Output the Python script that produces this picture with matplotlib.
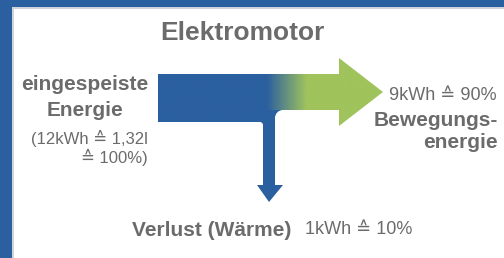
import matplotlib
matplotlib.use('Agg')
import matplotlib.pyplot as plt
import numpy as np
from matplotlib.path import Path
from matplotlib.patches import PathPatch, Rectangle
from matplotlib.colors import LinearSegmentedColormap

plt.rcParams['font.family'] = ['Liberation Sans', 'DejaVu Sans']

# Energiefluss: Zufluss, Nutzen, Verlust
flow_width = [1.0, 0.75, 0.25]   # Pfeilbreiten wie im Bild
kwh = [12, 9, 1]
percent = [100, 90, 10]
liter = '1,32l'

blue = '#2b60a0'
green = '#a0c35c'
grey = '#6b6b6b'

fig = plt.figure(figsize=(5.04, 2.58), dpi=100)
ax = fig.add_axes([0, 0, 1, 1])
ax.set_xlim(0, 504)
ax.set_ylim(258, 0)
ax.axis('off')

# Rahmen oben und links
ax.add_patch(Rectangle((0, 0), 504, 7, color=blue, lw=0))
ax.add_patch(Rectangle((0, 0), 12, 258, color=blue, lw=0))
ax.add_patch(Rectangle((12, 7), 2, 251, color='#d0d4da', lw=0))
ax.add_patch(Rectangle((12, 7), 492, 2, color='#d0d4da', lw=0))

# Geometrie des Sankey-Pfeils (Pixel)
px = 48
x0, x_branch, x_head, x_tip = 158, 263, 339, 383
y0 = 74
h_in = flow_width[0] * px
h_out = flow_width[1] * px
h_loss = flow_width[2] * px
x_b2 = x_branch + h_loss
y_mid = y0 + h_out / 2
head = 34

main_verts = [(x0, y0), (x_head, y0), (x_head, y_mid - head), (x_tip, y_mid),
              (x_head, y_mid + head), (x_head, y0 + h_out), (x_b2, y0 + h_out),
              (x_b2, y0 + h_in), (x0, y0 + h_in), (x0, y0)]
main_codes = [Path.MOVETO] + [Path.LINETO] * 8 + [Path.CLOSEPOLY]
main_patch = PathPatch(Path(main_verts, main_codes), fc='none', ec='none')
ax.add_patch(main_patch)

a = (267 - x0) / (x_tip - x0)
b = (307 - x0) / (x_tip - x0)
cmap = LinearSegmentedColormap.from_list('bg', [(0, blue), (a, blue), (b, green), (1, green)])
grad = np.linspace(0, 1, 400).reshape(1, -1)
im = ax.imshow(grad, cmap=cmap, extent=(x0, x_tip, y_mid + head + 2, y_mid - head - 2),
               aspect='auto', interpolation='bilinear')
im.set_clip_path(main_patch)

# Verlustpfeil nach unten mit Rundung
r = 8
k = 0.5523
y_end = 185
loss_verts = [(x_branch - 3, y0 + h_out),
              (x_b2 + r, y0 + h_out),
              (x_b2 + r - r * k, y0 + h_out), (x_b2, y0 + h_out + r - r * k), (x_b2, y0 + h_out + r),
              (x_b2, y_end), (x_b2 + 8, y_end), (x_branch + h_loss / 2, 202), (x_branch - 6, y_end),
              (x_branch, y_end), (x_branch, y0 + h_in + 3),
              (x_branch, y0 + h_in + 1.5), (x_branch - 1.5, y0 + h_in), (x_branch - 3, y0 + h_in),
              (x_branch - 3, y0 + h_out)]
loss_codes = [Path.MOVETO, Path.LINETO,
              Path.CURVE4, Path.CURVE4, Path.CURVE4,
              Path.LINETO, Path.LINETO, Path.LINETO, Path.LINETO,
              Path.LINETO, Path.LINETO,
              Path.CURVE4, Path.CURVE4, Path.CURVE4,
              Path.CLOSEPOLY]
ax.add_patch(PathPatch(Path(loss_verts, loss_codes), fc=blue, ec='none'))

# Texte
ax.text(242, 33, 'Elektromotor', ha='center', va='center', fontsize=19,
        fontweight='bold', color=grey)

ax.text(85, 85, 'eingespeiste', ha='center', va='center', fontsize=15, fontweight='bold', color=grey)
ax.text(85, 110, 'Energie', ha='center', va='center', fontsize=15, fontweight='bold', color=grey)
ax.text(148, 138, f'({kwh[0]}kWh \u2259 {liter}', ha='right', va='center', fontsize=12, color=grey)
ax.text(148, 157, f'\u2259 {percent[0]}%)', ha='right', va='center', fontsize=12, color=grey)

ax.text(497, 95, f'{kwh[1]}kWh \u2259 {percent[1]}%', ha='right', va='center', fontsize=13, color=grey)
ax.text(498, 120, 'Bewegungs-', ha='right', va='center', fontsize=15, fontweight='bold', color=grey)
ax.text(498, 143, 'energie', ha='right', va='center', fontsize=15, fontweight='bold', color=grey)

ax.text(132, 230, 'Verlust (Wärme)', ha='left', va='center', fontsize=15, fontweight='bold', color=grey)
ax.text(305, 230, f'{kwh[2]}kWh \u2259 {percent[2]}%', ha='left', va='center', fontsize=13, color=grey)

fig.savefig('out.png', dpi=100)
